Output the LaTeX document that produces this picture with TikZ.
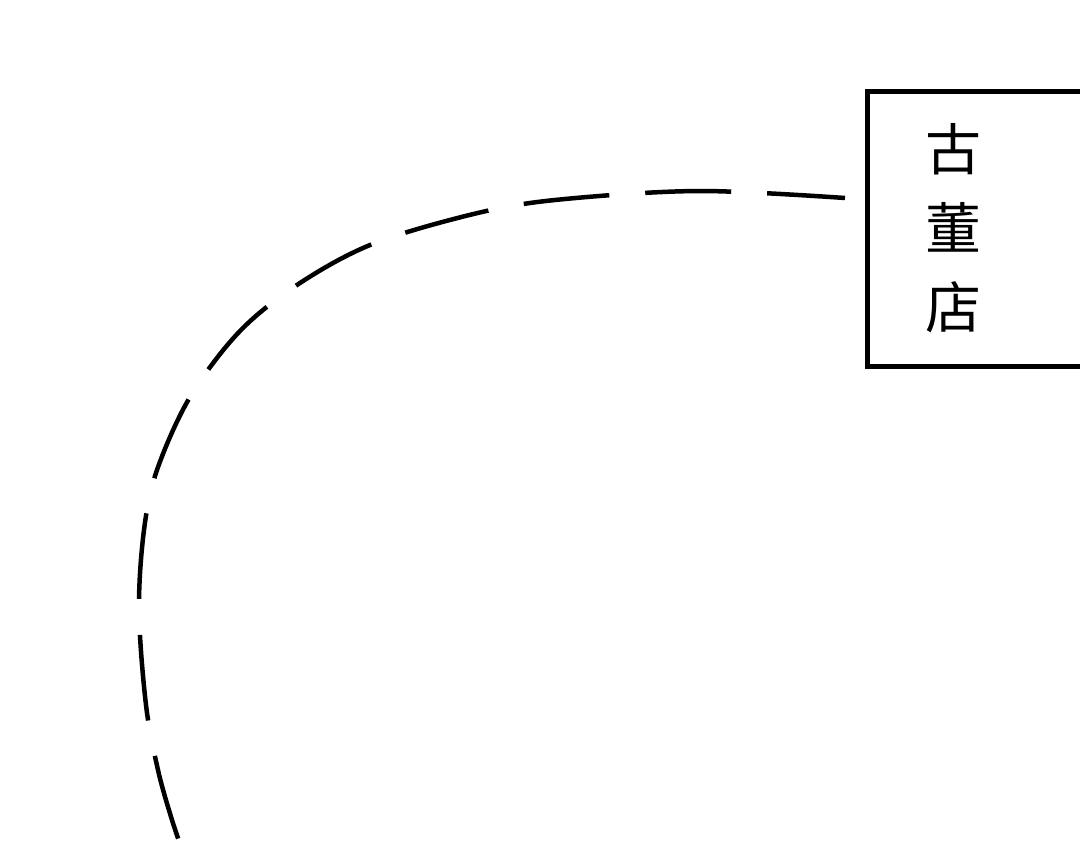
\documentclass[tikz,border=0pt]{standalone}
\usepackage{fontspec}
\newfontfamily\cjk{Noto Sans CJK SC}
\tikzset{
  shopbox/.style={draw=black, line width=5pt, minimum width=260pt, minimum height=275pt, anchor=north west, inner sep=0pt, outer sep=0pt},
  shoplabel/.style={font=\cjk\fontsize{56}{79}\selectfont, align=center, inner sep=0pt},
  route/.style={line width=4.5pt, dash pattern=on 86pt off 36pt, dash phase=8pt}
}
\begin{document}
\begin{tikzpicture}[x=1pt,y=-1pt]
\useasboundingbox (0,0) rectangle (1080,843);
\clip (0,0) rectangle (1080,843);
\node[shopbox] (box) at (867.5,91.5) {};
\node[shoplabel] (label) at (953,228) {古\\董\\店};
\coordinate (start) at (845,198);
\coordinate (tail) at (184,855);
\draw[route] plot[smooth, tension=0.55] coordinates {
  (845,198) (700,191) (565,199) (482,212) (375,243) (300,283) (240,331) (190,397) (157,470) (144,530) (139,610) (146,705) (158,770) (172,820) (184,855)};
\end{tikzpicture}
\end{document}
